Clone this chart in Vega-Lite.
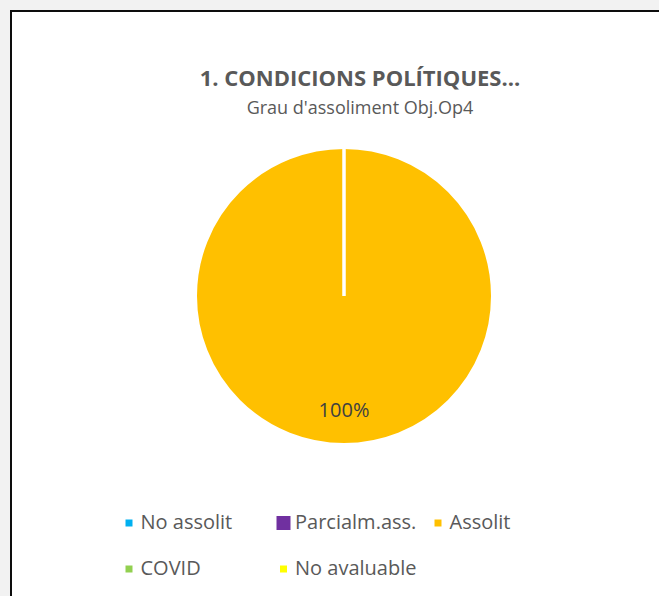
{
  "$schema": "https://vega.github.io/schema/vega-lite/v6.json",
  "width": 650,
  "height": 587,
  "autosize": {"type": "none"},
  "padding": {"left": 11, "top": 11, "right": -2, "bottom": -2},
  "background": "#f2f2f2",
  "view": {"fill": "white", "stroke": "#0d0d0d", "strokeWidth": 2},
  "config": {
    "view": {"fill": "white", "stroke": "#0d0d0d", "strokeWidth": 2},
    "font": "Open Sans"
  },
  "title": {
    "text": "1. CONDICIONS POLÍTIQUES...",
    "subtitle": "Grau d'assoliment Obj.Op4",
    "anchor": "middle",
    "frame": "group",
    "orient": "top",
    "offset": -108,
    "dx": 24,
    "font": "Open Sans",
    "fontSize": 22,
    "fontWeight": "bold",
    "color": "#595959",
    "subtitleFont": "Open Sans",
    "subtitleFontSize": 18,
    "subtitleColor": "#595959",
    "subtitlePadding": 9
  },
  "data": {
    "values": [
      {"cat": "No assolit", "value": 0, "idx": 1},
      {"cat": "Parcialm.ass.", "value": 0, "idx": 2},
      {"cat": "Assolit", "value": 1, "idx": 3},
      {"cat": "COVID", "value": 0, "idx": 4},
      {"cat": "No avaluable", "value": 0, "idx": 5}
    ]
  },
  "encoding": {
    "theta": {"field": "value", "type": "quantitative", "stack": true},
    "order": {"field": "idx", "type": "quantitative"}
  },
  "layer": [
    {
      "mark": {
        "type": "arc",
        "outerRadius": 148.5,
        "stroke": "white",
        "strokeWidth": 3,
        "xOffset": 8,
        "yOffset": -8.5
      },
      "encoding": {
        "color": {
          "field": "cat",
          "type": "nominal",
          "scale": {
            "domain": ["No assolit", "Parcialm.ass.", "Assolit", "COVID", "No avaluable"],
            "range": ["#00B0F0", "#7030A0", "#FFC000", "#92D050", "#FFFF00"]
          },
          "legend": {
            "orient": "none",
            "direction": "horizontal",
            "legendX": 108,
            "legendY": 502,
            "title": null,
            "columns": 3,
            "gridAlign": "all",
            "symbolType": "square",
            "symbolSize": {"expr": "datum.value === 'Parcialm.ass.' ? 196 : 49"},
            "symbolStrokeWidth": 0,
            "labelFont": "Open Sans",
            "labelFontSize": 20,
            "labelColor": "#595959",
            "labelOffset": 1.5,
            "columnPadding": 11.5,
            "rowPadding": 26,
            "padding": 0
          }
        }
      }
    },
    {
      "transform": [{"filter": "datum.value > 0"}],
      "mark": {
        "type": "text",
        "radius": 114.5,
        "dx": 8,
        "dy": -8.5,
        "font": "Open Sans",
        "fontSize": 20,
        "color": "#404040"
      },
      "encoding": {
        "text": {"field": "value", "type": "quantitative", "format": ".0%"}
      }
    }
  ]
}
